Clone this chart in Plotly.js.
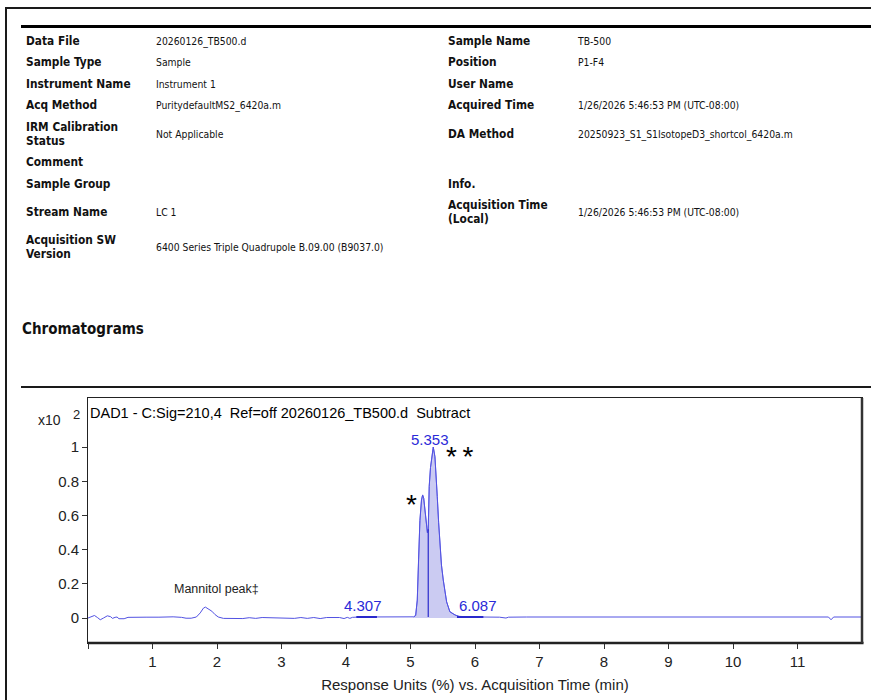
<!DOCTYPE html>
<html>
<head>
<meta charset="utf-8">
<script src="https://cdn.plot.ly/plotly-3.0.1.min.js"></script>
<style>
  html, body { margin:0; padding:0; background:#fff; }
  body { width:871px; height:700px; position:relative; overflow:hidden; font-family:"DejaVu Sans Condensed","DejaVu Sans",sans-serif; color:#111; }
  .ln { position:absolute; background:#1a1a1a; }
  .t { position:absolute; font-size:10.3px; line-height:14px; white-space:nowrap; transform:translateY(-50%); }
  .b { font-weight:bold; font-size:11.8px; }
  #chart { position:absolute; left:0; top:390px; width:871px; height:310px; }
</style>
</head>
<body>
<div class="ln" style="left:5px;top:7px;width:866px;height:2px;"></div>
<div class="ln" style="left:5px;top:7px;width:2px;height:693px;"></div>
<div class="ln" style="left:21px;top:25px;width:850px;height:3px;background:#000;"></div>

<div class="t b" style="left:26px;top:41px;">Data File</div>
<div class="t" style="left:156px;top:41px;">20260126_TB500.d</div>
<div class="t b" style="left:448px;top:41px;">Sample Name</div>
<div class="t" style="left:578px;top:41px;">TB-500</div>

<div class="t b" style="left:26px;top:62px;">Sample Type</div>
<div class="t" style="left:156px;top:62px;">Sample</div>
<div class="t b" style="left:448px;top:62px;">Position</div>
<div class="t" style="left:578px;top:62px;">P1-F4</div>

<div class="t b" style="left:26px;top:84px;">Instrument Name</div>
<div class="t" style="left:156px;top:84px;">Instrument 1</div>
<div class="t b" style="left:448px;top:84px;">User Name</div>

<div class="t b" style="left:26px;top:105px;">Acq Method</div>
<div class="t" style="left:156px;top:105px;">PuritydefaultMS2_6420a.m</div>
<div class="t b" style="left:448px;top:105px;">Acquired Time</div>
<div class="t" style="left:578px;top:105px;">1/26/2026 5:46:53 PM (UTC-08:00)</div>

<div class="t b" style="left:26px;top:134px;">IRM Calibration<br>Status</div>
<div class="t" style="left:156px;top:134px;">Not Applicable</div>
<div class="t b" style="left:448px;top:134px;">DA Method</div>
<div class="t" style="left:578px;top:134px;">20250923_S1_S1IsotopeD3_shortcol_6420a.m</div>

<div class="t b" style="left:26px;top:162px;">Comment</div>

<div class="t b" style="left:26px;top:184px;">Sample Group</div>
<div class="t b" style="left:448px;top:184px;">Info.</div>

<div class="t b" style="left:26px;top:212px;">Stream Name</div>
<div class="t" style="left:156px;top:212px;">LC 1</div>
<div class="t b" style="left:448px;top:212px;">Acquisition Time<br>(Local)</div>
<div class="t" style="left:578px;top:212px;">1/26/2026 5:46:53 PM (UTC-08:00)</div>

<div class="t b" style="left:26px;top:247px;">Acquisition SW<br>Version</div>
<div class="t" style="left:156px;top:247px;">6400 Series Triple Quadrupole B.09.00 (B9037.0)</div>

<div class="t b" style="left:22px;top:329px;font-size:15px;line-height:18px;">Chromatograms</div>

<div class="ln" style="left:21px;top:386px;width:850px;height:2px;"></div>

<div id="chart"></div>

<script>
// ---- chromatogram data (time in min, response x10^2) ----
var times = [0.00,0.05,0.10,0.15,0.19,0.24,0.30,0.35,0.38,0.42,0.45,0.48,0.52,0.56,0.62,0.70,0.90,1.10,1.25,1.32,1.45,1.52,1.60,1.68,1.74,1.79,1.82,1.86,1.92,1.97,2.02,2.10,2.20,2.30,2.40,2.50,2.60,2.70,2.80,2.90,3.00,3.10,3.20,3.30,3.40,3.50,3.60,3.70,3.80,3.90,3.97,4.02,4.06,4.10,4.20,4.30,4.40,4.50,4.70,4.90,5.05,5.08,5.105,5.125,5.146,5.17,5.188,5.205,5.224,5.245,5.262,5.275,5.29,5.31,5.328,5.353,5.379,5.40,5.415,5.436,5.456,5.48,5.508,5.535,5.56,5.61,5.69,5.75,5.85,5.95,6.10,6.30,6.35,6.38,6.48,6.52,6.80,7.50,9.00,11.00,11.48,11.52,11.56,12.00];
var response = [0.000,0.010,0.015,0.002,-0.010,0.000,0.013,0.008,-0.002,0.004,0.006,-0.004,-0.006,-0.004,0.004,0.005,0.005,0.005,0.009,0.007,0.004,-0.001,-0.001,0.006,0.030,0.058,0.064,0.056,0.040,0.020,0.006,-0.002,-0.002,0.001,-0.003,0.002,-0.002,0.003,0.002,0.003,0.001,0.003,-0.002,0.003,-0.002,0.003,-0.003,0.003,0.002,0.003,-0.003,0.004,-0.002,0.004,0.006,0.006,0.006,0.006,0.006,0.006,0.007,0.015,0.105,0.34,0.57,0.69,0.72,0.70,0.63,0.55,0.50,0.52,0.77,0.88,0.943,1.000,0.943,0.83,0.71,0.56,0.417,0.31,0.222,0.15,0.095,0.037,0.018,0.010,0.007,0.006,0.006,0.005,0.001,0.005,0.000,0.005,0.006,0.006,0.006,0.006,0.006,-0.010,0.006,0.006];

// integrated peak region and split
var fillStart = 5.05, fillEnd = 5.80;
var splitTime = 5.275;
var baselineLevel = 0.006;
// integration marks of small peaks (start, end)
var intStart = [4.16, 5.72];
var intEnd   = [4.48, 6.13];

// peak labels
var peakRT     = [4.307, 5.353, 6.087];
var peakLabelY = [0.075, 1.045, 0.075];
var peakLabels = ['4.307', '5.353', '6.087'];

var xTicks = [0,1,2,3,4,5,6,7,8,9,10,11];
var xTickText = ['','1','2','3','4','5','6','7','8','9','10','11'];
var yTicks = [0,0.2,0.4,0.6,0.8,1];
var yTickText = ['0','0.2','0.4','0.6','0.8','1'];

var lineColor = '#5252e2';
var darkBlue = '#2a2acc';

var fx = [], fy = [];
for (var i = 0; i < times.length; i++) {
  if (times[i] >= fillStart && times[i] <= fillEnd) { fx.push(times[i]); fy.push(response[i]); }
}
var splitY = response[times.indexOf(splitTime)];

var traces = [
  {x: fx, y: fy, type:'scatter', mode:'lines', fill:'tozeroy', fillcolor:'rgba(160,160,232,0.55)', line:{color:lineColor, width:0.8}, hoverinfo:'skip'},
  {x: times, y: response, type:'scatter', mode:'lines', line:{color:lineColor, width:1}},
  {x: [splitTime, splitTime], y: [baselineLevel, splitY], type:'scatter', mode:'lines', line:{color:darkBlue, width:1.2}}
];
for (var k = 0; k < intStart.length; k++) {
  traces.push({x:[intStart[k], intEnd[k]], y:[baselineLevel, baselineLevel], type:'scatter', mode:'lines', line:{color:darkBlue, width:2}});
}

var F = 'Liberation Sans, Arial, sans-serif';
var annotations = [];
for (var j = 0; j < peakRT.length; j++) {
  annotations.push({x: peakRT[j], y: peakLabelY[j], xref:'x', yref:'y', text: peakLabels[j], showarrow:false, xanchor:'center', yanchor:'middle', xshift:-3, font:{family:F, size:15, color:'#2a2ad8'}});
}
annotations.push({x:5.02, y:0.665, xref:'x', yref:'y', text:'*', showarrow:false, xanchor:'center', yanchor:'middle', font:{family:F, size:28, color:'#000'}});
annotations.push({x:5.76, y:0.945, xref:'x', yref:'y', text:'*\u2009*', showarrow:false, xanchor:'center', yanchor:'middle', font:{family:F, size:28, color:'#000'}});
annotations.push({x:1.99, y:0.17, xref:'x', yref:'y', text:'Mannitol peak\u2021', showarrow:false, xanchor:'center', yanchor:'middle', font:{family:F, size:12.5, color:'#222'}});
annotations.push({x:0.0, y:0.939, xref:'paper', yref:'paper', text:'DAD1 - C:Sig=210,4\u00a0\u00a0Ref=off 20260126_TB500.d\u00a0\u00a0Subtract', showarrow:false, xanchor:'left', yanchor:'middle', font:{family:F, size:14.5, color:'#000'}});
annotations.push({x:-0.032, y:0.910, xref:'paper', yref:'paper', text:'x10', showarrow:false, xanchor:'right', yanchor:'middle', font:{family:F, size:14, color:'#222'}});
annotations.push({x:-0.022, y:0.931, xref:'paper', yref:'paper', text:'2', showarrow:false, xanchor:'left', yanchor:'middle', font:{family:F, size:13, color:'#222'}});

var layout = {
  width: 871, height: 310,
  margin: {l:88, r:9, t:8, b:57},
  paper_bgcolor:'rgba(0,0,0,0)', plot_bgcolor:'#fff',
  showlegend:false,
  font:{family:F, size:15, color:'#222'},
  xaxis: {range:[0,12], tickmode:'array', tickvals:xTicks, ticktext:xTickText, ticks:'outside', ticklen:5, tickcolor:'#333', showgrid:false, zeroline:false, showline:true, linecolor:'#222', linewidth:1, mirror:true,
          title:{text:'Response Units (%) vs. Acquisition Time (min)', standoff:10, font:{size:15, color:'#222'}}},
  yaxis: {range:[-0.146,1.287], tickmode:'array', tickvals:yTicks, ticktext:yTickText, ticks:'outside', ticklen:5, tickcolor:'#333', showgrid:false, zeroline:false, showline:true, linecolor:'#222', linewidth:1, mirror:true},
  shapes: [
    {type:'line', xref:'paper', yref:'paper', x0:0, x1:1.002, y0:0, y1:0, line:{color:'#222', width:2.5}},
    {type:'line', xref:'paper', yref:'paper', x0:1, x1:1, y0:0, y1:1, line:{color:'#333', width:2.5}}
  ],
  annotations: annotations
};

Plotly.newPlot('chart', traces, layout, {staticPlot:true, displayModeBar:false});
</script>
</body>
</html>
